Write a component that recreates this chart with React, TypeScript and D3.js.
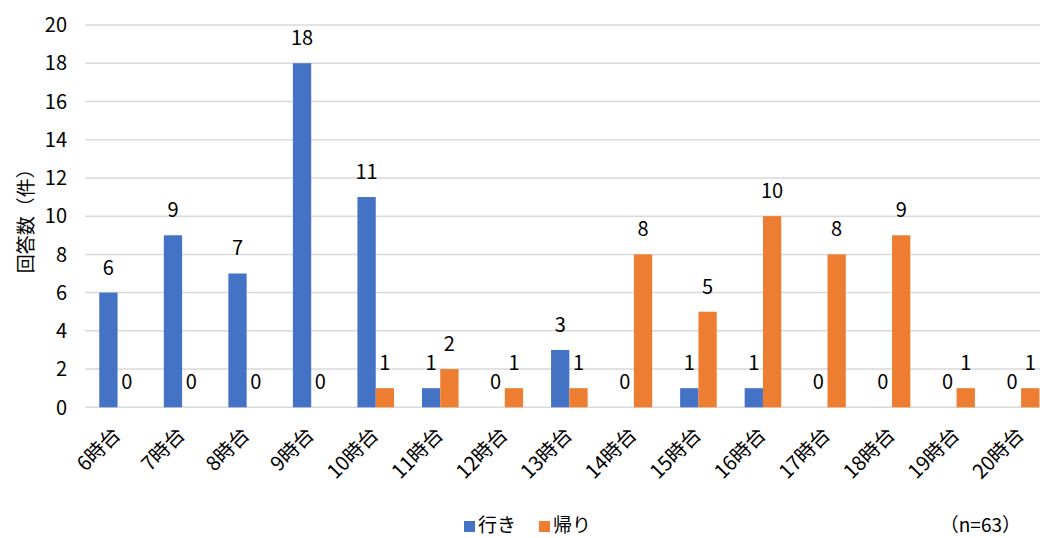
import React from "react";
import * as d3 from "d3";

const categories = ["6時台","7時台","8時台","9時台","10時台","11時台","12時台","13時台","14時台","15時台","16時台","17時台","18時台","19時台","20時台"];
const goValues = [6, 9, 7, 18, 11, 1, 0, 3, 0, 1, 1, 0, 0, 0, 0];
const returnValues = [0, 0, 0, 0, 1, 2, 1, 1, 8, 5, 10, 8, 9, 1, 1];
const seriesNames = ["行き", "帰り"];
const yTicks = [0, 2, 4, 6, 8, 10, 12, 14, 16, 18, 20];
const yTitle = "回答数（件）";
const note = "（n=63）";

const W = 1040, H = 538;
const left = 85.3, right = 1053.4, top = 25, bottom = 407.3;
const colors = ["#4472C4", "#ED7D31"];
const font = "'Noto Sans CJK JP', 'Noto Sans', sans-serif";

export default function App() {
  const x = d3.scaleBand<string>().domain(categories).range([left, right]).paddingInner(0).paddingOuter(0);
  const bw = x.bandwidth();
  const barW = bw * 0.2835;
  const gap = (bw - 2 * barW) / 2;
  const y = d3.scaleLinear().domain([0, 20]).range([bottom, top]);
  const series = [goValues, returnValues];

  return (
    <svg width={W} height={H} style={{ position: "absolute", left: 0, top: 0, background: "#fff" }} fontFamily={font}>
      {yTicks.map((t) => (
        <g key={t}>
          <line x1={left} x2={W} y1={y(t)} y2={y(t)} stroke="#d9d9d9" strokeWidth={1.5} />
          <text x={67} y={y(t)} dy="0.36em" textAnchor="end" fontSize={20} fill="#000">{t}</text>
        </g>
      ))}
      {series.map((vals, si) =>
        vals.map((v, i) => {
          const bx = (x(categories[i]) as number) + gap + si * barW;
          return (
            <g key={`${si}-${i}`}>
              {v > 0 && (
                <rect x={bx} y={y(v)} width={barW} height={y(0) - y(v)} fill={colors[si]} />
              )}
              <text x={bx + barW / 2} y={y(v) - 18} textAnchor="middle" fontSize={20} fill="#000">{v}</text>
            </g>
          );
        })
      )}
      {categories.map((c) => {
        const cx = (x(c) as number) + bw / 2;
        return (
          <text key={c} transform={`translate(${cx + 4},${436}) rotate(-45)`} textAnchor="end" fontSize={20} fill="#000">{c}</text>
        );
      })}
      <text transform={`translate(33,${(top + bottom) / 2}) rotate(-90)`} textAnchor="middle" fontSize={19} fill="#000">{yTitle}</text>
      {seriesNames.map((n, i) => {
        const lx = i === 0 ? 464 : 539;
        return (
          <g key={n}>
            <rect x={lx} y={521} width={11} height={11} fill={colors[i]} />
            <text x={lx + 14} y={532} fontSize={19} fill="#000">{n}</text>
          </g>
        );
      })}
      <text x={1021} y={532} textAnchor="end" fontSize={19} fill="#000">{note}</text>
    </svg>
  );
}
